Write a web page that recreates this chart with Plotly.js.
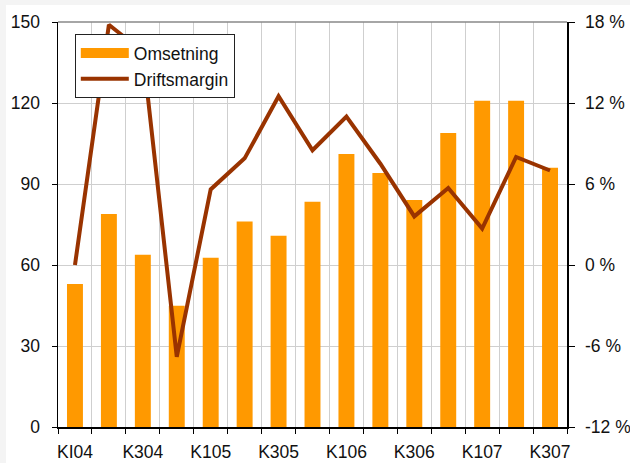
<!DOCTYPE html>
<html>
<head>
<meta charset="utf-8">
<script src="https://cdn.plot.ly/plotly-3.0.1.min.js"></script>
<style>
html, body { margin:0; padding:0; background:#f4f4f4; width:630px; height:463px; overflow:hidden; }
#chart { position:absolute; left:6px; top:5px; width:624px; height:458px; }
</style>
</head>
<body>
<div id="chart"></div>
<script>
const categories = ["KI04","K204","K304","K404","K105","K205","K305","K405","K106","K206","K306","K406","K107","K207","K307"];
const omsetning = [53.0, 78.9, 63.8, 44.9, 62.7, 76.1, 70.8, 83.4, 101.1, 94.1, 84.1, 108.9, 120.8, 120.8, 96.0];
const driftsmargin = [0.0, 17.8, 15.8, -6.8, 5.6, 7.9, 12.5, 8.5, 11.0, 7.5, 3.6, 5.7, 2.7, 8.0, 7.0];
const leftTicks = [0, 30, 60, 90, 120, 150];
const rightTicks = [-12, -6, 0, 6, 12, 18];

const orange = "#FF9900";
const brown = "#993300";
const font = {family: "Liberation Sans, Arial, sans-serif", size: 17.5, color: "#111"};

const traces = [
  {type: "bar", x: categories, y: omsetning, marker: {color: orange}, name: "Omsetning", showlegend: false, yaxis: "y"},
  {type: "scatter", mode: "lines", x: [null], y: [null], line: {color: orange, width: 13}, name: "Omsetning", yaxis: "y", hoverinfo: "skip"},
  {type: "scatter", mode: "lines", x: categories, y: driftsmargin, line: {color: brown, width: 4}, name: "Driftsmargin", yaxis: "y2"}
];

const layout = {
  width: 624, height: 458,
  margin: {l: 52, r: 63, t: 17, b: 36},
  paper_bgcolor: "#ffffff", plot_bgcolor: "#ffffff",
  font: font,
  bargap: 0.53,
  showlegend: true,
  legend: {x: 0.033, y: 0.97, xanchor: "left", yanchor: "top", bgcolor: "#ffffff", bordercolor: "#222", borderwidth: 1,
           font: font, itemwidth: 48, tracegroupgap: 0},
  xaxis: {type: "category", tickson: "boundaries", tickvals: categories,
          ticktext: categories.map((c, i) => i % 2 === 0 ? c : ""), tickangle: 0, automargin: false,
          ticks: "outside", ticklen: 5, tickcolor: "#000", showgrid: true, gridcolor: "#cfcfcf", gridwidth: 1,
          showline: true, linecolor: "#000", linewidth: 1.5, ticklabelstandoff: 8, fixedrange: true},
  yaxis: {range: [0, 150], tickvals: leftTicks, ticks: "outside", ticklen: 5, tickcolor: "#000",
          showgrid: true, gridcolor: "#cfcfcf", showline: true, linecolor: "#000", linewidth: 1.5, zeroline: false,
          ticklabelstandoff: 8, fixedrange: true},
  yaxis2: {range: [-12, 18], tickvals: rightTicks, ticktext: rightTicks.map(v => v + " %"), overlaying: "y", side: "right",
           ticks: "outside", ticklen: 6, tickcolor: "#000", showgrid: false, showline: true, linecolor: "#000", linewidth: 1.5,
           zeroline: false, ticklabelstandoff: 7, fixedrange: true},
  shapes: [{type: "line", xref: "paper", yref: "paper", x0: 0, x1: 1, y0: 1, y1: 1, line: {color: "#888", width: 1.5}}]
};

Plotly.newPlot("chart", traces, layout, {displayModeBar: false, staticPlot: true});
</script>
</body>
</html>
